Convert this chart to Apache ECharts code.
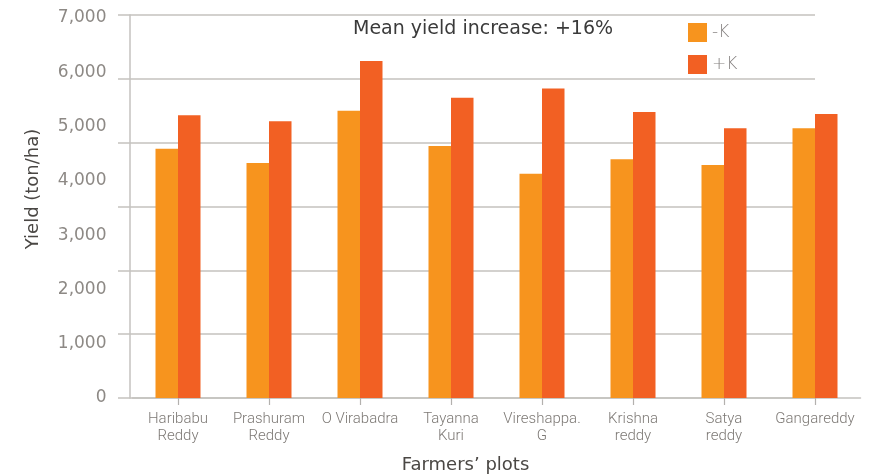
<!DOCTYPE html>
<html>
<head>
<meta charset="utf-8">
<title>Yield by farmers' plots</title>
<script src="https://cdn.jsdelivr.net/npm/echarts@6/dist/echarts.min.js"></script>
<style>
  html, body { margin: 0; padding: 0; background: #fff; }
  #chart { width: 873px; height: 475px; }
</style>
</head>
<body>
<div id="chart"></div>
<script>
// farmers' plots (x categories)
const plots = [
  'Haribabu\nReddy', 'Prashuram\nReddy', 'O Virabadra', 'Tayanna\nKuri',
  'Vireshappa.\nG', 'Krishna\nreddy', 'Satya\nreddy', 'Gangareddy'
]
// yield without / with potassium (ton/ha)
const minusK = [4590, 4330, 5290, 4640, 4130, 4400, 4290, 4970]
const plusK = [5210, 5100, 6210, 5530, 5700, 5270, 4970, 5230]
const yTicks = { min: 0, max: 7000, interval: 1000 }

const FONT = "'DejaVu Sans', sans-serif"
const LINE = '#c4c2bf'

const chart = echarts.init(document.getElementById('chart'))

chart.setOption({
  animation: false,
  color: ['#f7941e', '#f26023'],
  title: {
    text: 'Mean yield increase: +16%',
    left: 353,
    top: 20,
    padding: 0,
    textStyle: { fontFamily: FONT, fontSize: 19, fontWeight: 'normal', color: '#3a3a3a' }
  },
  legend: {
    orient: 'vertical',
    left: 688,
    top: 23,
    padding: 0,
    itemWidth: 19,
    itemHeight: 19,
    itemGap: 13,
    icon: 'rect',
    textStyle: { fontFamily: FONT, fontSize: 17, fontWeight: 300, color: '#858180', padding: [4, 0, 0, 0] }
  },
  grid: [
    // bars
    { left: 132.5, right: 12.5, top: 18, bottom: 77, outerBoundsMode: 'none' },
    // gridlines (drawn separately, they don't line up with the labels)
    { left: 118, right: 58, top: 15, bottom: 77, outerBoundsMode: 'none' }
  ],
  xAxis: [
    {
      type: 'category',
      gridIndex: 0,
      data: plots,
      axisLine: { show: true, lineStyle: { color: LINE, width: 1.5 } },
      axisTick: { show: true, interval: 0, alignWithLabel: true, length: 7, lineStyle: { color: '#b3b1ae', width: 1.2 } },
      axisLabel: {
        interval: 0,
        fontFamily: 'Roboto, sans-serif', fontSize: 15, fontWeight: 300,
        lineHeight: 17, color: '#7d7975', margin: 13
      },
      name: 'Farmers’ plots',
      nameLocation: 'middle',
      nameGap: 58,
      nameTextStyle: { fontFamily: FONT, fontSize: 18, fontWeight: 'normal', color: '#4a4744', padding: [0, 62, 0, 0] }
    },
    { type: 'value', gridIndex: 1, show: false, min: 0, max: 1 }
  ],
  yAxis: [
    {
      type: 'value',
      gridIndex: 0,
      ...yTicks,
      splitLine: { show: false },
      axisLine: { show: false },
      axisTick: { show: false },
      axisLabel: {
        fontFamily: FONT, fontSize: 17, fontWeight: 'normal', color: '#8d8985', margin: 26,
        formatter: v => v.toLocaleString('en-US')
      },
      name: 'Yield (ton/ha)',
      nameLocation: 'middle',
      nameGap: 90,
      nameTextStyle: { fontFamily: FONT, fontSize: 18, fontWeight: 'normal', color: '#4a4744', padding: [0, 0, 0, 38] }
    },
    {
      type: 'value',
      gridIndex: 1,
      min: 0,
      max: 6,
      interval: 1,
      offset: -12,
      axisLabel: { show: false },
      axisTick: { show: false },
      axisLine: { show: true, lineStyle: { color: LINE, width: 1.5 } },
      splitLine: { lineStyle: { color: '#d3d1ce', width: 2 } }
    }
  ],
  series: [
    { name: '-K', type: 'bar', data: minusK, barWidth: 22.5, barGap: '0%' },
    { name: '+K', type: 'bar', data: plusK, barWidth: 22.5, barGap: '0%' }
  ]
})
</script>
</body>
</html>
